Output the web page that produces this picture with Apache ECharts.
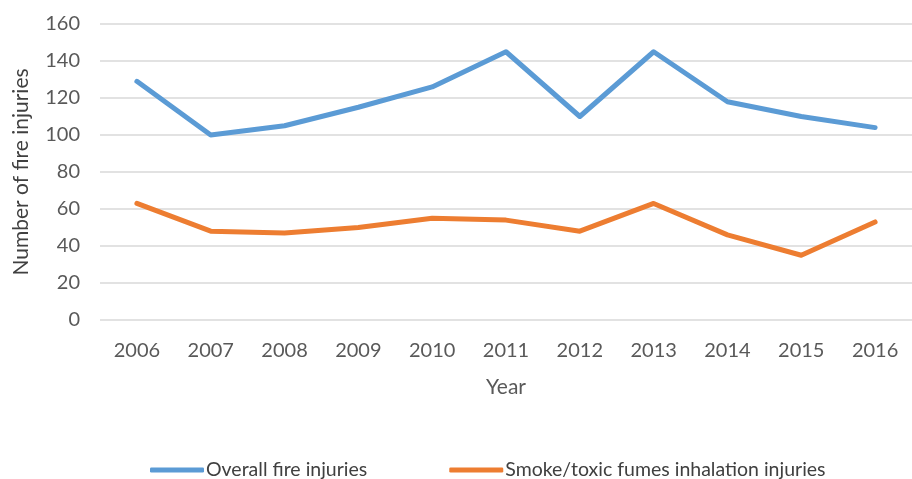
<!DOCTYPE html>
<html><head><meta charset="utf-8">
<script src="https://cdn.jsdelivr.net/npm/echarts@6/dist/echarts.min.js"></script>
<style>html,body{margin:0;padding:0;background:#fff}#c{width:912px;height:479px}</style>
</head><body><div id="c"></div>
<script>
var years = ['2006','2007','2008','2009','2010','2011','2012','2013','2014','2015','2016'];
var overall = [129, 100, 105, 115, 126, 145, 110, 145, 118, 110, 104];
var smoke = [63, 48, 47, 50, 55, 54, 48, 63, 46, 35, 53];
var seriesNames = ['Overall fire injuries', 'Smoke/toxic fumes inhalation injuries'];
var FONT = 'Lato';
var chart = echarts.init(document.getElementById('c'));
chart.setOption({
  animation: false,
  textStyle: {fontFamily: FONT},
  grid: {left: 100, top: 24, width: 816, height: 296, containLabel: false},
  xAxis: {
    type: 'category', data: years, boundaryGap: true,
    axisLine: {show: false}, axisTick: {show: false},
    axisLabel: {color: '#595959', fontSize: 20, fontFamily: FONT, margin: 21},
    name: 'Year', nameLocation: 'middle', nameGap: 57,
    nameTextStyle: {color: '#595959', fontSize: 21, fontFamily: FONT}
  },
  yAxis: {
    type: 'value', min: 0, max: 160, interval: 20,
    axisLine: {show: false}, axisTick: {show: false},
    splitLine: {lineStyle: {color: '#D9D9D9', width: 1.5}},
    axisLabel: {color: '#595959', fontSize: 20, fontFamily: FONT, margin: 20},
    name: 'Number of fire injuries', nameLocation: 'middle', nameGap: 68,
    nameTextStyle: {color: '#404040', fontSize: 21, fontFamily: FONT}
  },
  legend: {
    top: 455, left: 145, itemWidth: 54, itemHeight: 5, itemGap: 82,
    icon: 'roundRect',
    textStyle: {color: '#404040', fontSize: 19.5, fontFamily: FONT, padding: [0,0,0,-3]},
    data: seriesNames
  },
  series: [
    {name: seriesNames[0], type: 'line', data: overall, symbol: 'none',
     lineStyle: {color: '#5B9BD5', width: 5, cap: 'round', join: 'round'}, itemStyle: {color: '#5B9BD5'}},
    {name: seriesNames[1], type: 'line', data: smoke, symbol: 'none',
     lineStyle: {color: '#ED7D31', width: 5, cap: 'round', join: 'round'}, itemStyle: {color: '#ED7D31'}}
  ]
});
</script></body></html>
